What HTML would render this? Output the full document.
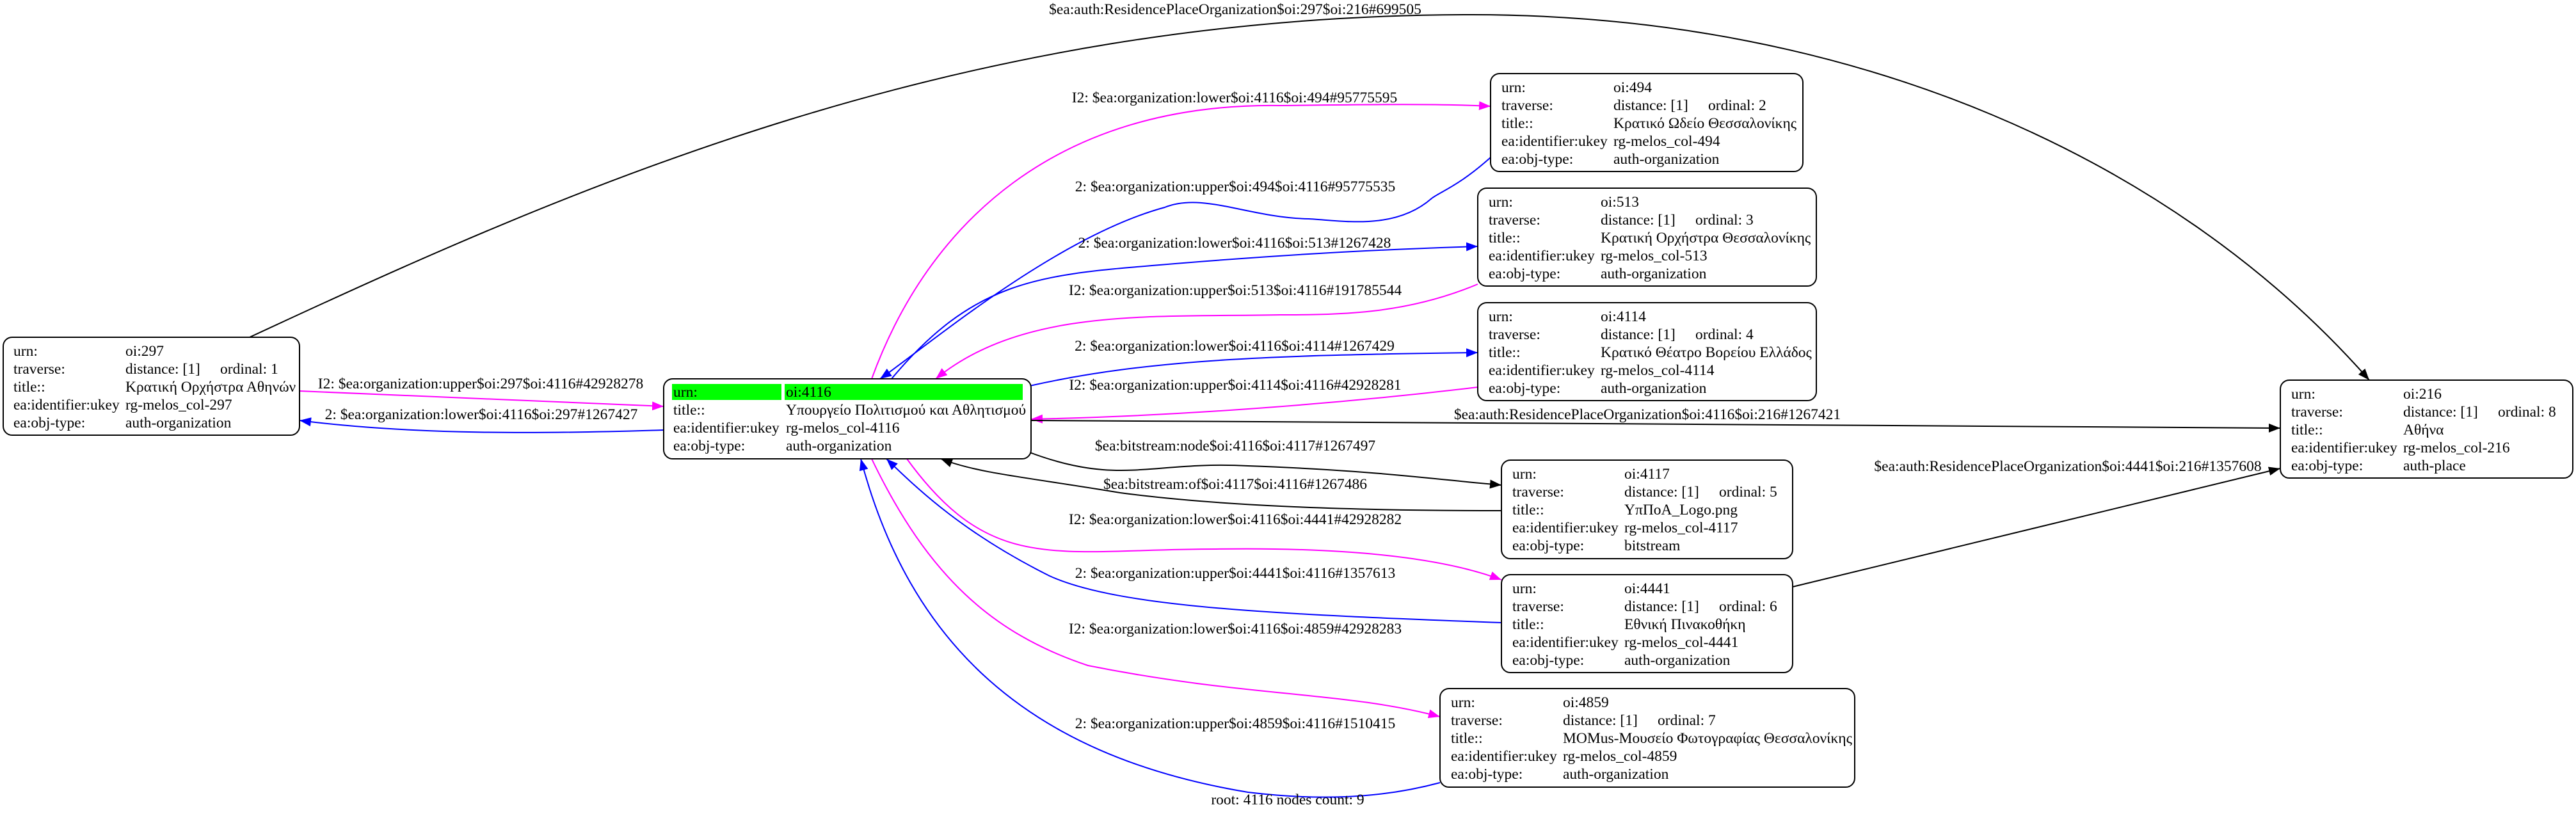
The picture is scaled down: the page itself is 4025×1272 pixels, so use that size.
<!DOCTYPE html>
<html><head><meta charset="utf-8"><style>
html,body{margin:0;padding:0;background:#fff;}
svg{display:block;}
text{font-family:"Liberation Serif","Noto Serif CJK SC",serif;font-size:23.5px;fill:#000;}
.e{fill:none;stroke-width:2;}
.n{fill:#fff;stroke:#000;stroke-width:2;}
</style></head><body>
<svg width="4025" height="1272" viewBox="0 0 4025 1272" xmlns="http://www.w3.org/2000/svg">
<defs>
<marker id="ak" markerUnits="userSpaceOnUse" markerWidth="20" markerHeight="16" refX="18" refY="8" orient="auto"><path d="M0,1 L18,8 L0,15 z" fill="#000"/></marker>
<marker id="ab" markerUnits="userSpaceOnUse" markerWidth="20" markerHeight="16" refX="18" refY="8" orient="auto"><path d="M0,1 L18,8 L0,15 z" fill="#0000ff"/></marker>
<marker id="am" markerUnits="userSpaceOnUse" markerWidth="20" markerHeight="16" refX="18" refY="8" orient="auto"><path d="M0,1 L18,8 L0,15 z" fill="#ff00ff"/></marker>
</defs>

<!-- edges -->
<path class="e" stroke="#000" marker-end="url(#ak)" d="M390,527 C900,290 1500,23 2300,23 C2900,23 3400,250 3702,594"/>
<path class="e" stroke="#ff00ff" marker-end="url(#am)" d="M468,611 C700,620 900,630 1037,635"/>
<path class="e" stroke="#0000ff" marker-end="url(#ab)" d="M1037,672 C850,678 650,680 468,657"/>
<path class="e" stroke="#ff00ff" marker-end="url(#am)" d="M1362,592 C1450,350 1650,160 2000,165 C2150,163 2250,162 2329,166"/>
<path class="e" stroke="#0000ff" marker-end="url(#ab)" d="M2329,246 C2280,290 2250,300 2237,310 C2180,360 2100,345 2045,342 C1950,340 1880,300 1820,324 C1650,370 1450,540 1375,592"/>
<path class="e" stroke="#0000ff" marker-end="url(#ab)" d="M1393,592 C1520,440 1620,430 1800,415 C2000,398 2150,390 2309,385"/>
<path class="e" stroke="#ff00ff" marker-end="url(#am)" d="M2309,444 C2200,490 2100,492 2000,492 C1800,496 1600,480 1462,592"/>
<path class="e" stroke="#0000ff" marker-end="url(#ab)" d="M1609,603 C1800,560 2000,555 2309,551"/>
<path class="e" stroke="#ff00ff" marker-end="url(#am)" d="M2309,605 C2100,630 1850,650 1611,655"/>
<path class="e" stroke="#000" marker-end="url(#ak)" d="M1611,657 C2200,660 3000,665 3563,669"/>
<path class="e" stroke="#000" marker-end="url(#ak)" d="M1609,707 C1750,760 1800,720 1950,728 C2150,735 2250,750 2346,758"/>
<path class="e" stroke="#000" marker-end="url(#ak)" d="M2346,798 C2100,798 1900,790 1750,770 C1600,745 1530,740 1470,717"/>
<path class="e" stroke="#ff00ff" marker-end="url(#am)" d="M1417,717 C1550,900 1650,858 1900,858 C2100,855 2250,870 2346,906"/>
<path class="e" stroke="#0000ff" marker-end="url(#ab)" d="M2346,973 C2000,960 1750,950 1640,900 C1500,830 1430,760 1385,717"/>
<path class="e" stroke="#ff00ff" marker-end="url(#am)" d="M1362,717 C1450,900 1550,990 1700,1040 C1950,1090 2100,1080 2250,1120"/>
<path class="e" stroke="#0000ff" marker-end="url(#ab)" d="M2250,1223 C2150,1250 2050,1250 1950,1238 C1600,1180 1420,1000 1345,717"/>
<path class="e" stroke="#000" marker-end="url(#ak)" d="M2801,917 L3563,732"/>

<!-- edge labels -->
<g text-anchor="middle">
<text x="1930" y="22">$ea:auth:ResidencePlaceOrganization$oi:297$oi:216#699505</text>
<text x="1929" y="160">I2: $ea:organization:lower$oi:4116$oi:494#95775595</text>
<text x="1930" y="299">2: $ea:organization:upper$oi:494$oi:4116#95775535</text>
<text x="1929" y="387">2: $ea:organization:lower$oi:4116$oi:513#1267428</text>
<text x="1930" y="461">I2: $ea:organization:upper$oi:513$oi:4116#191785544</text>
<text x="1929" y="548">2: $ea:organization:lower$oi:4116$oi:4114#1267429</text>
<text x="1930" y="609">I2: $ea:organization:upper$oi:4114$oi:4116#42928281</text>
<text x="751" y="607">I2: $ea:organization:upper$oi:297$oi:4116#42928278</text>
<text x="752" y="655">2: $ea:organization:lower$oi:4116$oi:297#1267427</text>
<text x="2574" y="655">$ea:auth:ResidencePlaceOrganization$oi:4116$oi:216#1267421</text>
<text x="3231" y="736">$ea:auth:ResidencePlaceOrganization$oi:4441$oi:216#1357608</text>
<text x="1930" y="704">$ea:bitstream:node$oi:4116$oi:4117#1267497</text>
<text x="1930" y="764">$ea:bitstream:of$oi:4117$oi:4116#1267486</text>
<text x="1930" y="819">I2: $ea:organization:lower$oi:4116$oi:4441#42928282</text>
<text x="1930" y="903">2: $ea:organization:upper$oi:4441$oi:4116#1357613</text>
<text x="1930" y="990">I2: $ea:organization:lower$oi:4116$oi:4859#42928283</text>
<text x="1930" y="1138">2: $ea:organization:upper$oi:4859$oi:4116#1510415</text>
<text x="2012" y="1257">root: 4116 nodes count: 9</text>
</g>

<!-- node 297 -->
<rect class="n" x="5" y="527" width="463" height="153" rx="14"/>
<text x="21" y="556">urn:</text><text x="196" y="556">oi:297</text>
<text x="21" y="584">traverse:</text><text x="196" y="584">distance: [1]</text><text x="344" y="584">ordinal: 1</text>
<text x="21" y="612">title::</text><text x="196" y="612">Κρατική Ορχήστρα Αθηνών</text>
<text x="21" y="640">ea:identifier:ukey</text><text x="196" y="640">rg-melos_col-297</text>
<text x="21" y="668">ea:obj-type:</text><text x="196" y="668">auth-organization</text>

<!-- node 4116 -->
<rect class="n" x="1037" y="592" width="574" height="125" rx="14"/>
<rect x="1050" y="600" width="171" height="25" fill="#00ff00"/>
<rect x="1226" y="600" width="372" height="25" fill="#00ff00"/>
<text x="1052" y="620">urn:</text><text x="1228" y="620">oi:4116</text>
<text x="1052" y="648">title::</text><text x="1228" y="648">Υπουργείο Πολιτισμού και Αθλητισμού</text>
<text x="1052" y="676">ea:identifier:ukey</text><text x="1228" y="676">rg-melos_col-4116</text>
<text x="1052" y="704">ea:obj-type:</text><text x="1228" y="704">auth-organization</text>

<!-- node 494 -->
<rect class="n" x="2329" y="115" width="488" height="153" rx="14"/>
<text x="2346" y="144">urn:</text><text x="2521" y="144">oi:494</text>
<text x="2346" y="172">traverse:</text><text x="2521" y="172">distance: [1]</text><text x="2669" y="172">ordinal: 2</text>
<text x="2346" y="200">title::</text><text x="2521" y="200">Κρατικό Ωδείο Θεσσαλονίκης</text>
<text x="2346" y="228">ea:identifier:ukey</text><text x="2521" y="228">rg-melos_col-494</text>
<text x="2346" y="256">ea:obj-type:</text><text x="2521" y="256">auth-organization</text>

<!-- node 513 -->
<rect class="n" x="2309" y="294" width="529" height="153" rx="14"/>
<text x="2326" y="323">urn:</text><text x="2501" y="323">oi:513</text>
<text x="2326" y="351">traverse:</text><text x="2501" y="351">distance: [1]</text><text x="2649" y="351">ordinal: 3</text>
<text x="2326" y="379">title::</text><text x="2501" y="379">Κρατική Ορχήστρα Θεσσαλονίκης</text>
<text x="2326" y="407">ea:identifier:ukey</text><text x="2501" y="407">rg-melos_col-513</text>
<text x="2326" y="435">ea:obj-type:</text><text x="2501" y="435">auth-organization</text>

<!-- node 4114 -->
<rect class="n" x="2309" y="473" width="529" height="153" rx="14"/>
<text x="2326" y="502">urn:</text><text x="2501" y="502">oi:4114</text>
<text x="2326" y="530">traverse:</text><text x="2501" y="530">distance: [1]</text><text x="2649" y="530">ordinal: 4</text>
<text x="2326" y="558">title::</text><text x="2501" y="558">Κρατικό Θέατρο Βορείου Ελλάδος</text>
<text x="2326" y="586">ea:identifier:ukey</text><text x="2501" y="586">rg-melos_col-4114</text>
<text x="2326" y="614">ea:obj-type:</text><text x="2501" y="614">auth-organization</text>

<!-- node 4117 -->
<rect class="n" x="2346" y="719" width="455" height="154" rx="14"/>
<text x="2363" y="748">urn:</text><text x="2538" y="748">oi:4117</text>
<text x="2363" y="776">traverse:</text><text x="2538" y="776">distance: [1]</text><text x="2686" y="776">ordinal: 5</text>
<text x="2363" y="804">title::</text><text x="2538" y="804">ΥπΠοΑ_Logo.png</text>
<text x="2363" y="832">ea:identifier:ukey</text><text x="2538" y="832">rg-melos_col-4117</text>
<text x="2363" y="860">ea:obj-type:</text><text x="2538" y="860">bitstream</text>

<!-- node 4441 -->
<rect class="n" x="2346" y="898" width="455" height="153" rx="14"/>
<text x="2363" y="927">urn:</text><text x="2538" y="927">oi:4441</text>
<text x="2363" y="955">traverse:</text><text x="2538" y="955">distance: [1]</text><text x="2686" y="955">ordinal: 6</text>
<text x="2363" y="983">title::</text><text x="2538" y="983">Εθνική Πινακοθήκη</text>
<text x="2363" y="1011">ea:identifier:ukey</text><text x="2538" y="1011">rg-melos_col-4441</text>
<text x="2363" y="1039">ea:obj-type:</text><text x="2538" y="1039">auth-organization</text>

<!-- node 4859 -->
<rect class="n" x="2250" y="1076" width="648" height="154" rx="14"/>
<text x="2267" y="1105">urn:</text><text x="2442" y="1105">oi:4859</text>
<text x="2267" y="1133">traverse:</text><text x="2442" y="1133">distance: [1]</text><text x="2590" y="1133">ordinal: 7</text>
<text x="2267" y="1161">title::</text><text x="2442" y="1161">MOMus-Μουσείο Φωτογραφίας Θεσσαλονίκης</text>
<text x="2267" y="1189">ea:identifier:ukey</text><text x="2442" y="1189">rg-melos_col-4859</text>
<text x="2267" y="1217">ea:obj-type:</text><text x="2442" y="1217">auth-organization</text>

<!-- node 216 -->
<rect class="n" x="3563" y="594" width="457" height="153" rx="14"/>
<text x="3580" y="623">urn:</text><text x="3755" y="623">oi:216</text>
<text x="3580" y="651">traverse:</text><text x="3755" y="651">distance: [1]</text><text x="3903" y="651">ordinal: 8</text>
<text x="3580" y="679">title::</text><text x="3755" y="679">Αθήνα</text>
<text x="3580" y="707">ea:identifier:ukey</text><text x="3755" y="707">rg-melos_col-216</text>
<text x="3580" y="735">ea:obj-type:</text><text x="3755" y="735">auth-place</text>
</svg>
</body></html>
